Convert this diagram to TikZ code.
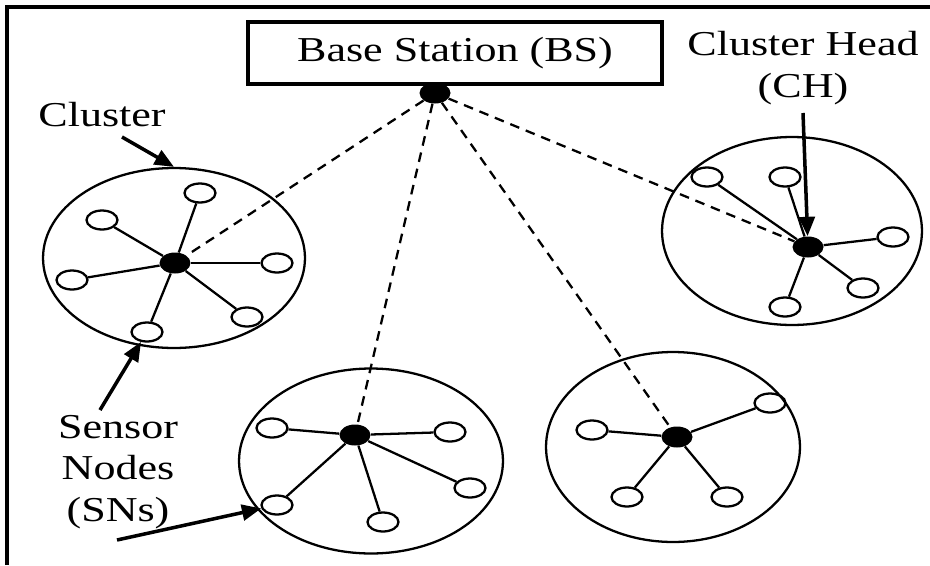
\documentclass[tikz,border=0pt]{standalone}
\usepackage{fontspec}
\setmainfont{Liberation Serif}[FakeStretch=1.26]
\usetikzlibrary{positioning, shapes.geometric, arrows.meta}

\tikzset{
  sn/.style={ellipse, draw, line width=1.3pt, minimum width=0.62cm, minimum height=0.38cm, inner sep=0pt},
  ch/.style={ellipse, fill=black, minimum width=0.62cm, minimum height=0.42cm, inner sep=0pt},
  cl/.style={ellipse, draw, line width=1.3pt, inner sep=0pt},
  link/.style={line width=1.3pt},
  uplink/.style={line width=1.3pt, dash pattern=on 5.5pt off 4pt},
  arr/.style={line width=2pt, -{Triangle[length=11pt,width=9pt]}},
  lbl/.style={font=\fontsize{19.9}{23.5}\selectfont, align=center, inner sep=0pt}
}

\begin{document}
\begin{tikzpicture}[x=0.02cm, y=-0.02cm]
    \useasboundingbox (0,0) rectangle (930,565);

    % Frame
    \draw[line width=1.8pt] (7,565) -- (7,7) -- (930,7);

    % Base station
    \node[draw, lbl, line width=1.8pt, minimum width=8.28cm, minimum height=1.24cm] (box) at (455,53) {Base Station (BS)};
    \node[ch] (bs) at (435,93) {};

    % Left cluster
    \node[cl, minimum width=5.24cm, minimum height=3.6cm] (cl1) at (174,258) {};
    \node[ch] (h1) at (175,263) {};
    \foreach \i/\x/\y in {1/200/193, 2/102/220, 3/72/280, 4/277/263, 5/247/317, 6/147/332} {
        \node[sn] (a\i) at (\x,\y) {};
        \draw[link] (h1) -- (a\i);
    }

    % Bottom middle cluster
    \node[cl, minimum width=5.28cm, minimum height=3.7cm] (cl2) at (371,461) {};
    \node[ch] (h2) at (355,435) {};
    \foreach \i/\x/\y in {1/272/428, 2/450/432, 3/470/488, 4/383/522, 5/277/505} {
        \node[sn] (b\i) at (\x,\y) {};
        \draw[link] (h2) -- (b\i);
    }

    % Bottom right cluster
    \node[cl, minimum width=5.08cm, minimum height=3.8cm] (cl3) at (673,447) {};
    \node[ch] (h3) at (677,437) {};
    \foreach \i/\x/\y in {1/592/430, 2/770/403, 3/627/497, 4/727/497} {
        \node[sn] (c\i) at (\x,\y) {};
        \draw[link] (h3) -- (c\i);
    }

    % Top right cluster
    \node[cl, minimum width=5.2cm, minimum height=3.76cm] (cl4) at (792,231) {};
    \node[ch] (h4) at (808,247) {};
    \foreach \i/\x/\y in {1/707/177, 2/785/177, 3/893/237, 4/863/288, 5/785/307} {
        \node[sn] (d\i) at (\x,\y) {};
        \draw[link] (h4) -- (d\i);
    }

    % Links from the base station to the cluster heads
    \foreach \j in {1,2,3,4} {
        \draw[uplink] (bs) -- (h\j);
    }

    % Labels
    \node[lbl] (clusterlbl) at (102,115) {Cluster};
    \node[lbl] (snlbl) at (118,472) {Sensor\\Nodes\\(SNs)};
    \node[lbl] (chlbl) at (803,68) {Cluster Head\\(CH)};

    % Pointer arrows
    \coordinate (p1) at (122,137);
    \coordinate (p2) at (100,410);
    \coordinate (p3) at (117,540);
    \coordinate (p4) at (803,113);
    \draw[arr] (p1) -- (cl1.north);
    \draw[arr] (p2) -- (a6);
    \draw[arr] (p3) -- (b5);
    \draw[arr] (p4) -- (h4);
\end{tikzpicture}
\end{document}
